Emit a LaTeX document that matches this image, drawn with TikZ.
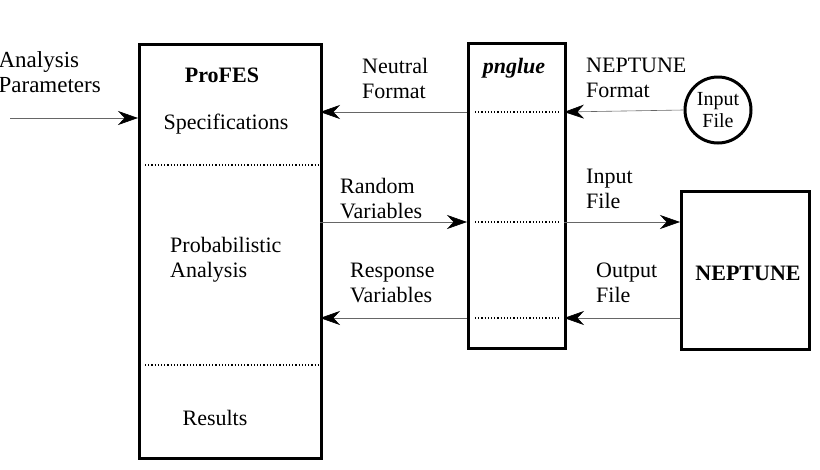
\documentclass[tikz,border=0pt]{standalone}
\usepackage{fontspec}
\setmainfont{Liberation Serif}
\usetikzlibrary{arrows.meta}
\begin{document}
\begin{tikzpicture}[x=1pt,y=-1pt,
  box/.style={draw,line width=3pt},
  dot/.style={dotted,line width=1.2pt},
  arr/.style={draw=gray!80!black,line width=0.6pt,-{Stealth[length=20pt,width=14pt,black]}},
  lbl/.style={align=left,anchor=west,inner sep=0pt},
  every node/.style={font=\fontsize{22}{25}\selectfont}]
\useasboundingbox (0,0) rectangle (820,469);
\begin{scope}
\clip (0,0) rectangle (820,469);
\node[lbl,anchor=east,font=\fontsize{23}{25}\selectfont] (ap) at (101,72) {Analysis\\Parameters};
\end{scope}
\node[box,minimum width=182pt,minimum height=414pt,anchor=north west] (pf) at (138,43) {};
\draw[dot] (145,165) -- (318,165);
\draw[dot] (145,365) -- (318,365);
\node (pft) at (222,75) {\textbf{ProFES}};
\node (spec) at (226,124) {Specifications};
\node[lbl] (prob) at (170,260) {Probabilistic\\Analysis};
\node (res) at (215,418) {Results};
\node[box,minimum width=97pt,minimum height=305pt,anchor=north west] (pg) at (467,42) {};
\node (pgt) at (514,68) {\textbf{\textit{pnglue}}};
\foreach \y in {112,222,318} \draw[dot] (475,\y) -- (560,\y);
\node[box,circle,minimum size=66pt,inner sep=0pt,align=center,font=\fontsize{20}{22}\selectfont] (inf) at (718,110) {Input\\File};
\node[box,minimum width=128pt,minimum height=158pt,anchor=north west] (nep) at (680,190) {};
\node (nept) at (748,273) {\textbf{NEPTUNE}};
\coordinate (s0) at (10,118);
\draw[arr] (s0) -- (138,118);
\draw[arr] (467,112) -- (320,112);
\draw[arr] (inf.west) -- (564,112);
\draw[arr] (320,222) -- (467,222);
\draw[arr] (564,222) -- (680,222);
\draw[arr] (680,318) -- (564,318);
\draw[arr] (467,318) -- (320,318);
\node[lbl] (l1) at (362,78) {Neutral\\Format};
\node[lbl] (l2) at (586,78) {NEPTUNE\\Format};
\node[lbl] (l3) at (340,199) {Random\\Variables};
\node[lbl] (l4) at (586,189) {Input\\File};
\node[lbl] (l5) at (350,283) {Response\\Variables};
\node[lbl] (l6) at (596,283) {Output\\File};
\end{tikzpicture}
\end{document}
